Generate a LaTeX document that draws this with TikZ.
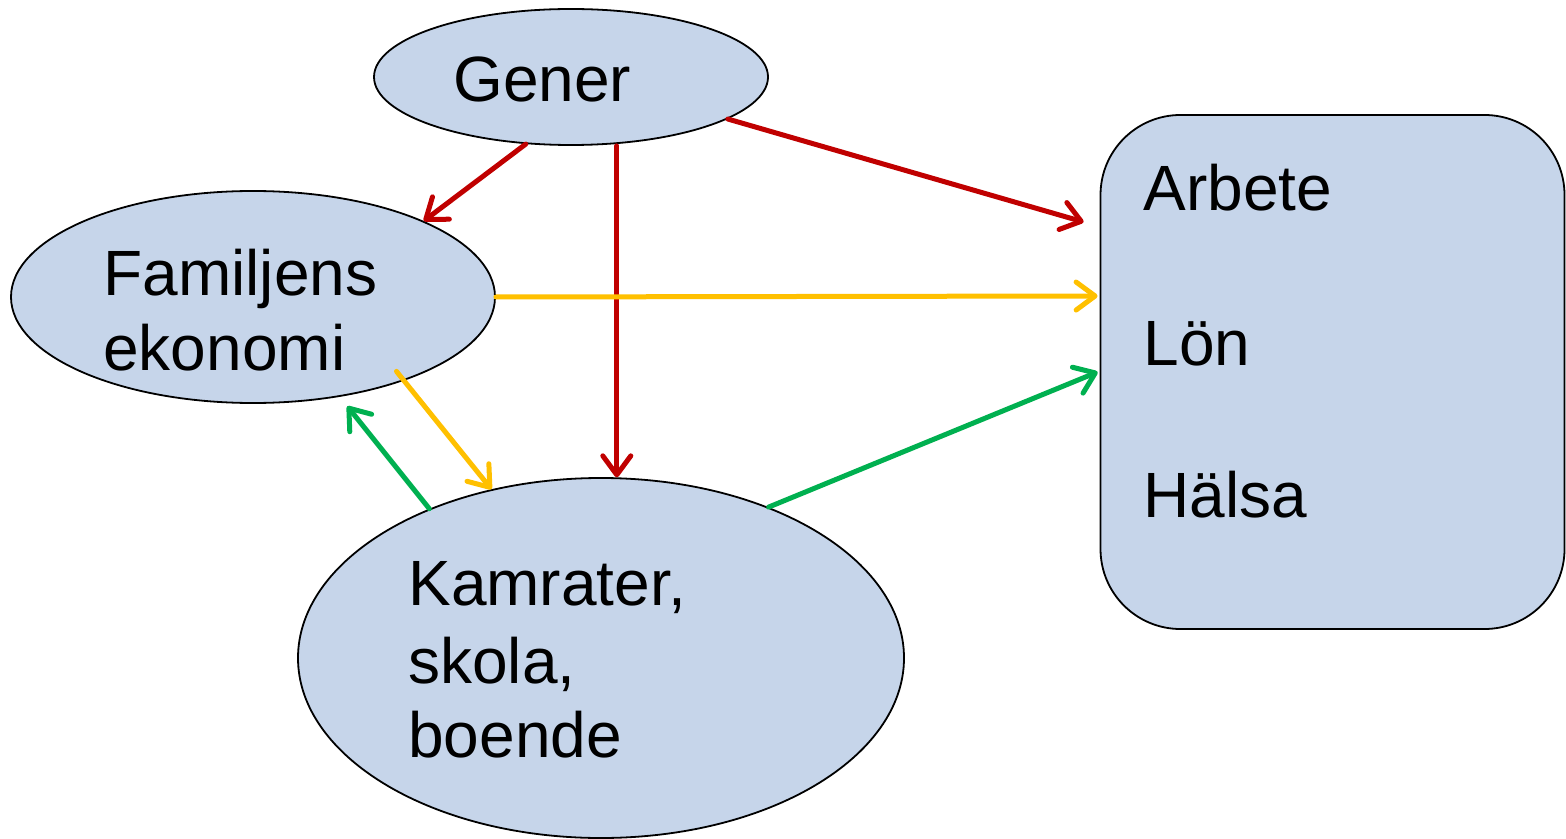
\documentclass[tikz,border=0pt]{standalone}
\usepackage{fontspec}
\setmainfont{Liberation Sans}
\usetikzlibrary{shapes.geometric,arrows.meta}
\definecolor{bubble}{HTML}{C6D5EA}
\definecolor{redarr}{HTML}{C00000}
\definecolor{yelarr}{HTML}{FFC000}
\definecolor{grnarr}{HTML}{00B050}
\begin{document}
\begin{tikzpicture}[x=0.5pt,y=-0.5pt,
  bub/.style={ellipse,draw=black,line width=0.9pt,fill=bubble,inner sep=0pt},
  boxshape/.style={rectangle,draw=black,line width=0.9pt,fill=bubble,rounded corners=40pt,inner sep=0pt,minimum width=232pt,minimum height=257pt},
  lbl/.style={anchor=base west,inner sep=0pt,font=\fontsize{32}{38}\selectfont},
  conn/.style={line width=2.5pt,line cap=round,-{Straight Barb[length=9.5pt,width=14pt,round]}},
  redc/.style={conn,draw=redarr},
  yelc/.style={conn,draw=yelarr},
  grnc/.style={conn,draw=grnarr}]
\useasboundingbox (0,0) rectangle (1566,839);
\node[bub,minimum width=197pt,minimum height=68pt] (gener) at (571,77) {};
\node[bub,minimum width=242pt,minimum height=106pt] (fam) at (253,297) {};
\node[bub,minimum width=303pt,minimum height=180pt] (kam) at (601,658) {};
\node[boxshape] (box) at (1332.5,372) {};
\node[lbl] (tgener) at (453,102) {Gener};
\node[lbl] (tfam1) at (103,296) {Familjens};
\node[lbl] (tfam2) at (103,370) {ekonomi};
\node[lbl] (tkam1) at (408,605) {Kamrater,};
\node[lbl] (tkam2) at (408,683) {skola,};
\node[lbl] (tkam3) at (408,757) {boende};
\node[lbl] (tarb) at (1143,211) {Arbete};
\node[lbl] (tlon) at (1143,365) {Lön};
\node[lbl] (thal) at (1143,517) {Hälsa};
\coordinate (redend) at ([shift={(-16,-150)}]box.west);
\coordinate (yelend) at ([shift={(-2,-76)}]box.west);
\coordinate (grnend) at ([shift={(-2,0)}]box.west);
\draw[redc] (gener.236) -- (fam.24);
\draw[redc] (kam.85 |- gener.south) -- (kam.85);
\draw[redc] (gener.-15) -- (redend);
\draw[yelc] (fam.east) -- (yelend);
\draw[yelc,shorten <=-6pt] (fam.-29) -- (kam.123);
\draw[grnc,shorten >=6pt] (kam.139) -- (fam.-49);
\draw[grnc] (kam.42) -- (grnend);
\end{tikzpicture}
\end{document}
